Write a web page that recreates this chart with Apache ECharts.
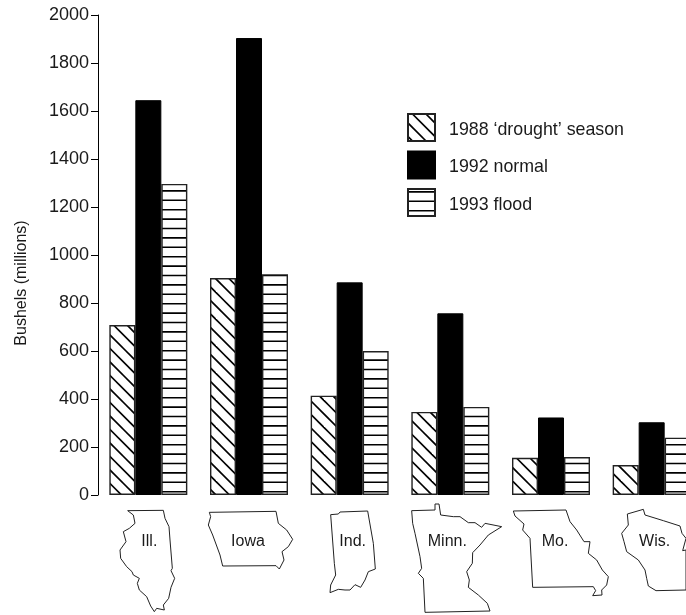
<!DOCTYPE html>
<html><head><meta charset="utf-8">
<style>html,body{margin:0;padding:0;background:#fff;overflow:hidden}#c{width:686px;height:615px}</style>
<script src="https://cdn.jsdelivr.net/npm/echarts@6/dist/echarts.min.js"></script>
</head><body><div id="c"></div>
<script>
const states = ['Ill.', 'Iowa', 'Ind.', 'Minn.', 'Mo.', 'Wis.'];
const drought1988 = [708, 904, 414, 346, 155, 125];
const normal1992 = [1645, 1904, 886, 757, 323, 303];
const flood1993 = [1296, 920, 600, 367, 158, 239];
const yTicks = [0, 200, 400, 600, 800, 1000, 1200, 1400, 1600, 1800, 2000];

// State silhouettes (decoration), traced in 3x crop units with their crop origin
const outlineIll = [[83,32],[190,31],[195,55],[207,80],[210,120],[217,205],[213,212],[224,235],[213,262],[206,295],[190,315],[193,330],[170,325],[163,335],[152,318],[140,290],[118,270],[112,250],[118,235],[100,225],[96,215],[80,200],[62,175],[60,150],[78,125],[70,95],[88,85],[105,70],[100,45],[83,32]];
const outlineIowa = [[328,37],[528,34],[535,70],[560,90],[578,118],[565,140],[546,155],[552,180],[538,207],[528,197],[368,198],[360,165],[338,105],[325,75],[332,50],[328,37]];
const outlineInd = [[692,44],[715,42],[720,36],[803,33],[820,130],[826,207],[805,215],[795,240],[782,262],[765,254],[750,270],[735,270],[715,268],[690,278],[692,255],[707,225],[703,190],[692,44]];
const outlineMinn = [[35,32],[105,30],[105,12],[117,12],[122,45],[160,50],[180,50],[205,68],[225,68],[245,82],[255,70],[305,80],[265,105],[240,135],[218,158],[217,190],[200,215],[208,240],[205,262],[235,285],[262,310],[270,333],[75,337],[70,235],[55,220],[65,205],[60,170],[45,100],[38,70],[35,32]];
const outlineMo = [[340,33],[498,30],[510,65],[530,90],[552,125],[570,125],[565,160],[590,180],[607,210],[625,230],[620,255],[605,270],[606,285],[578,287],[587,272],[580,260],[398,262],[390,115],[368,90],[372,72],[345,48],[340,33]];
const outlineWis = [[682,42],[730,28],[735,45],[790,62],[840,78],[846,100],[858,115],[848,152],[858,150],[858,270],[768,272],[745,258],[740,235],[735,210],[715,180],[680,155],[672,125],[665,100],[685,75],[682,42]];

function tile(size, draw) {
  const c = document.createElement('canvas');
  c.width = c.height = size;
  const g = c.getContext('2d');
  g.fillStyle = '#fff'; g.fillRect(0, 0, size, size);
  g.strokeStyle = '#000'; g.lineWidth = 1.6;
  draw(g, size);
  return { image: c, repeat: 'repeat' };
}
const diagPattern = tile(27, (g, s) => {
  for (let c = -27 + 9; c < 27; c += 13.5) {
    g.beginPath(); g.moveTo(-2, c - 2); g.lineTo(s + 2, c + s + 2); g.stroke();
  }
});
const horizPattern = tile(47, (g, s) => {
  for (let y = 2.9; y < s; y += 9.4) {
    g.beginPath(); g.moveTo(0, y); g.lineTo(s, y); g.stroke();
  }
});

const labelFont = 'Liberation Sans';
const ink = '#1a1a1a';
const barBase = { type: 'bar', barWidth: 26, barGap: 0, animation: false };
const chart = echarts.init(document.getElementById('c'), null, { renderer: 'canvas' });

const outlines = [
  [outlineIll, 100], [outlineIowa, 100], [outlineInd, 100],
  [outlineMinn, 400], [outlineMo, 400], [outlineWis, 400]
].map(([pts, ox]) => ({
  type: 'polyline', silent: true,
  shape: { points: pts.map(p => [ox + p[0] / 3, 500 + p[1] / 3]) },
  style: { stroke: '#222', lineWidth: 1, fill: null }
}));

// small horizontal nudges so each state name sits where it does inside its outline
const labelNudge = [1, -1, 3, -3, 4, 3];
const labelRich = {};
labelNudge.forEach((n, i) => {
  labelRich['s' + i] = {
    fontFamily: labelFont, fontSize: 16, color: ink,
    padding: [0, n < 0 ? -2 * n : 0, 0, n > 0 ? 2 * n : 0]
  };
});

chart.setOption({
  animation: false,
  backgroundColor: '#fff',
  grid: { left: 98, top: 15, width: 604, height: 480, containLabel: false, outerBoundsMode: 'none' },
  legend: {
    orient: 'vertical', left: 407, top: 113, padding: 0, itemWidth: 27, itemHeight: 27, itemGap: 8.5,
    icon: 'rect', selectedMode: false,
    formatter: '{t|{name}}',
    textStyle: {
      fontFamily: labelFont, fontSize: 17.8, color: ink,
      rich: { t: { fontFamily: labelFont, fontSize: 17.8, color: ink, padding: [5, 0, 0, 9] } }
    }
  },
  xAxis: {
    type: 'category', data: states,
    axisLine: { show: false }, axisTick: { show: false },
    axisLabel: {
      fontFamily: labelFont, fontSize: 16, color: ink, margin: 39, interval: 0,
      formatter: (v, i) => '{s' + i + '|' + v + '}', rich: labelRich
    }
  },
  yAxis: {
    type: 'value', min: 0, max: 2000, interval: 200,
    name: 'Bushels (millions)', nameLocation: 'middle', nameGap: 68,
    nameTextStyle: { fontFamily: labelFont, fontSize: 16, color: ink, padding: [0, 56, 0, 0] },
    axisLine: { show: true, lineStyle: { color: '#000', width: 1 } },
    axisTick: { show: true, length: 7, lineStyle: { color: '#000', width: 1 } },
    splitLine: { show: false },
    axisLabel: { fontFamily: labelFont, fontSize: 18, color: ink, margin: 9, formatter: v => String(v),
      customValues: yTicks }
  },
  series: [
    { ...barBase, name: "1988 ‘drought’ season", data: drought1988,
      itemStyle: { color: diagPattern, borderColor: '#222', borderWidth: 1.4 } },
    { ...barBase, name: '1992 normal', data: normal1992,
      itemStyle: { color: '#000', borderColor: '#000', borderWidth: 1 } },
    { ...barBase, name: '1993 flood', data: flood1993,
      itemStyle: { color: horizPattern, borderColor: '#222', borderWidth: 1.4 } }
  ],
  graphic: { elements: outlines }
});
</script></body></html>
